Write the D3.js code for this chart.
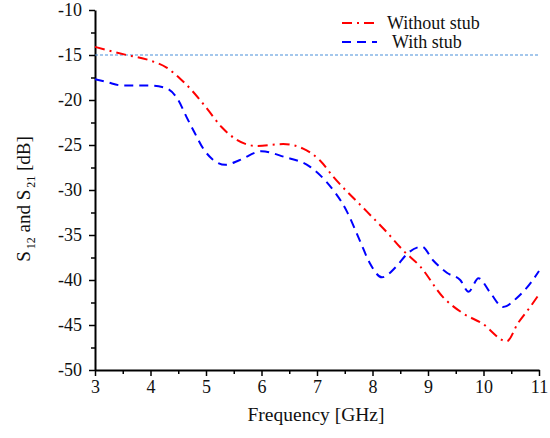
<!DOCTYPE html>
<html>
<head>
<meta charset="utf-8">
<script src="https://cdn.jsdelivr.net/npm/d3@7"></script>
<style>
  body { margin: 0; background: #fff; }
  svg text { font-family: 'Liberation Serif', 'Times New Roman', Times, serif; fill: #111; }
</style>
</head>
<body>
<div id="container"></div>
<script>
// data
var freqWithout = [3.0, 3.57, 3.99, 4.29, 4.53, 4.74, 5.01, 5.28, 5.55, 5.91, 6.39, 6.75, 7.05, 7.29, 7.9, 8.26, 8.55, 8.86, 9.27, 9.63, 9.97, 10.42, 10.62, 10.84, 11.0];
var withoutStub = [-14.1, -15.0, -15.6, -16.4, -17.6, -18.9, -20.9, -23.0, -24.4, -25.1, -24.9, -25.4, -26.7, -28.5, -32.4, -34.7, -36.7, -38.5, -41.9, -43.7, -44.8, -46.8, -44.8, -43.0, -41.6];

var freqWith = [3.0, 3.21, 3.5, 4.0, 4.29, 4.5, 4.65, 4.8, 4.95, 5.12, 5.35, 5.6, 6.0, 6.4, 6.87, 7.17, 7.54, 7.77, 7.95, 8.17, 8.43, 8.64, 8.89, 9.09, 9.34, 9.58, 9.73, 9.91, 10.12, 10.35, 10.6, 10.84, 11.0];
var withStub = [-17.7, -18.0, -18.4, -18.4, -18.7, -20.0, -21.9, -23.7, -25.4, -26.6, -27.2, -26.7, -25.7, -26.3, -27.4, -29.1, -32.4, -35.6, -38.1, -39.7, -38.5, -37.0, -36.3, -37.8, -39.2, -40.0, -41.3, -39.8, -41.4, -43.0, -42.0, -40.4, -39.0];

var xTicks = [3, 4, 5, 6, 7, 8, 9, 10, 11];
var yTicks = [-50, -45, -40, -35, -30, -25, -20, -15, -10];
var limitLine = -15;

var width = 550, height = 438;
var margin = { left: 95, right: 11, top: 10, bottom: 68 };
var serif = "'Liberation Serif', 'Times New Roman', Times, serif";

var svg = d3.select('#container').append('svg')
  .attr('width', width).attr('height', height)
  .attr('font-family', serif);

var x = d3.scaleLinear().domain([3, 11]).range([margin.left, width - margin.right]);
var y = d3.scaleLinear().domain([-50, -10]).range([height - margin.bottom, margin.top]);

// minor ticks
svg.append('g')
  .attr('transform', 'translate(0,' + y(-50) + ')')
  .call(d3.axisBottom(x).tickValues(d3.range(3.5, 11, 1)).tickSize(4).tickFormat(''))
  .call(function(g) { g.select('.domain').remove(); });
svg.append('g')
  .attr('transform', 'translate(' + x(3) + ',0)')
  .call(d3.axisLeft(y).tickValues(d3.range(-47.5, -10, 5)).tickSize(4).tickFormat(''))
  .call(function(g) { g.select('.domain').remove(); });

// major axes
var xAxis = svg.append('g')
  .attr('transform', 'translate(0,' + y(-50) + ')')
  .call(d3.axisBottom(x).tickValues(xTicks).tickSize(6).tickSizeOuter(0).tickPadding(4));
var yAxis = svg.append('g')
  .attr('transform', 'translate(' + x(3) + ',0)')
  .call(d3.axisLeft(y).tickValues(yTicks).tickSize(6).tickSizeOuter(0).tickPadding(7)
    .tickFormat(function(d) { return d; }));

[xAxis, yAxis].forEach(function(a) {
  a.attr('font-family', serif).attr('font-size', 18);
  a.selectAll('path, line').attr('stroke', '#000').attr('stroke-width', 2);
  a.selectAll('text').attr('fill', '#111');
});
svg.selectAll('g.tick line').attr('stroke', '#000').attr('stroke-width', 1.5);

// -15 dB reference line
svg.append('line')
  .attr('x1', x(3)).attr('x2', x(11))
  .attr('y1', y(limitLine)).attr('y2', y(limitLine))
  .attr('stroke', '#4a90d9').attr('stroke-width', 1.2)
  .attr('stroke-dasharray', '3,2');

var line = d3.line()
  .x(function(d) { return x(d[0]); })
  .y(function(d) { return y(d[1]); })
  .curve(d3.curveMonotoneX);

svg.append('path')
  .datum(d3.zip(freqWithout, withoutStub))
  .attr('d', line)
  .attr('fill', 'none').attr('stroke', '#ff0000').attr('stroke-width', 2)
  .attr('stroke-dasharray', '10,5,2,5');

svg.append('path')
  .datum(d3.zip(freqWith, withStub))
  .attr('d', line)
  .attr('fill', 'none').attr('stroke', '#0000ff').attr('stroke-width', 2)
  .attr('stroke-dasharray', '9,6');

// legend
var legend = svg.append('g').attr('font-size', 18);
legend.append('line').attr('x1', 342).attr('x2', 377).attr('y1', 23).attr('y2', 23)
  .attr('stroke', '#ff0000').attr('stroke-width', 2).attr('stroke-dasharray', '10,5,2,5');
legend.append('text').attr('x', 387).attr('y', 29).text('Without stub');
legend.append('line').attr('x1', 342).attr('x2', 377).attr('y1', 42).attr('y2', 42)
  .attr('stroke', '#0000ff').attr('stroke-width', 2).attr('stroke-dasharray', '9,6');
legend.append('text').attr('x', 392).attr('y', 48).text('With stub');

// axis titles
svg.append('text')
  .attr('x', 316).attr('y', 421)
  .attr('text-anchor', 'middle').attr('font-size', 19.5)
  .text('Frequency [GHz]');

var yTitle = svg.append('text')
  .attr('transform', 'translate(30,199) rotate(-90)')
  .attr('text-anchor', 'middle').attr('font-size', 19);
yTitle.append('tspan').text('S');
yTitle.append('tspan').attr('dy', 5).attr('dx', 2).attr('font-size', 12).text('12');
yTitle.append('tspan').attr('dy', -5).text(' and S');
yTitle.append('tspan').attr('dy', 5).attr('dx', 2).attr('font-size', 12).text('21');
yTitle.append('tspan').attr('dy', -5).text('  [dB]');
</script>
</body>
</html>
